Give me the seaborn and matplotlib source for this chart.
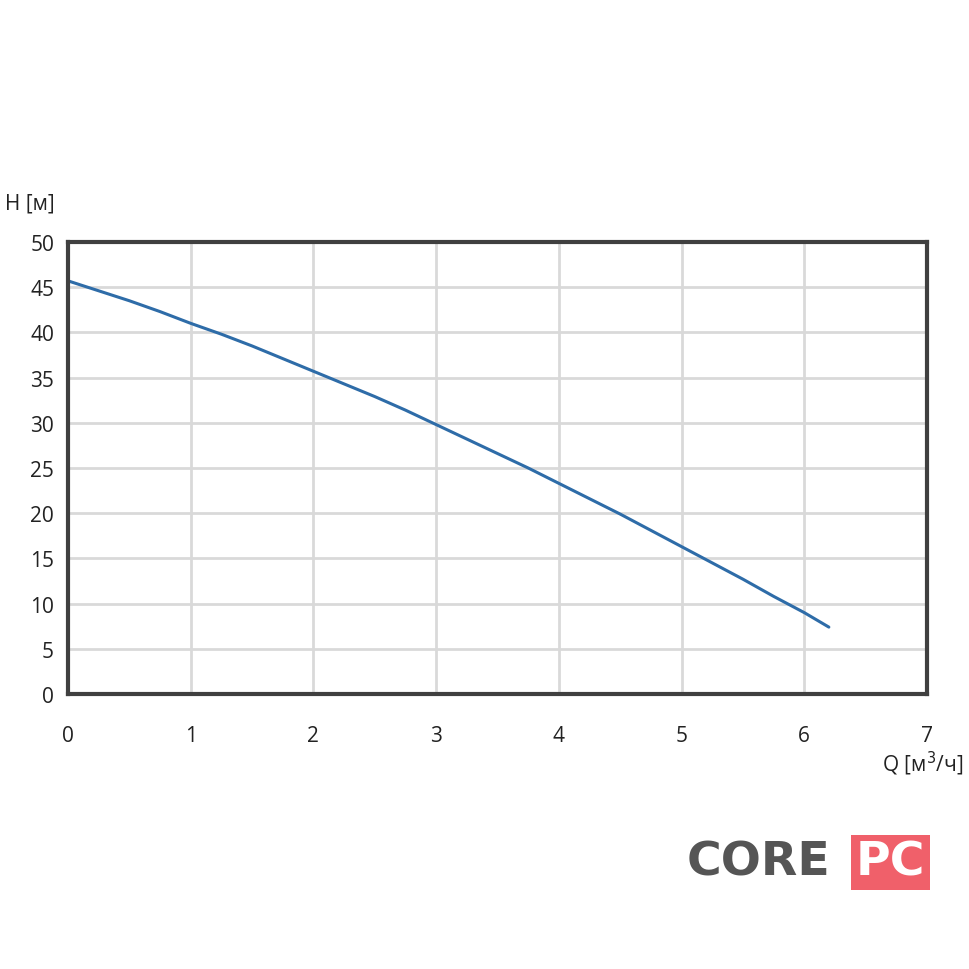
import matplotlib
matplotlib.use("Agg")
import matplotlib.pyplot as plt
import seaborn as sns
import pandas as pd

q = [0, 0.25, 0.5, 0.75, 1, 1.25, 1.5, 1.75, 2, 2.25, 2.5, 2.75, 3, 3.25, 3.5, 3.75,
     4, 4.25, 4.5, 4.75, 5, 5.25, 5.5, 5.75, 6, 6.2]
h = [45.7, 44.6, 43.5, 42.3, 41.0, 39.8, 38.5, 37.1, 35.7, 34.3, 32.9, 31.4, 29.8, 28.2,
     26.6, 25.0, 23.3, 21.6, 19.9, 18.1, 16.3, 14.5, 12.7, 10.8, 9.0, 7.4]
xticks = [0, 1, 2, 3, 4, 5, 6, 7]
yticks = [0, 5, 10, 15, 20, 25, 30, 35, 40, 45, 50]

sns.set_style("white")
plt.rcParams['font.family'] = ['Open Sans', 'DejaVu Sans']

fig = plt.figure(figsize=(9.7, 9.7), dpi=100)
ax = fig.add_axes([0.0701, 0.2835, 0.8856, 0.466])
df = pd.DataFrame({"Q": q, "H": h})
sns.lineplot(data=df, x="Q", y="H", ax=ax, color="#2e6ca8", linewidth=2.2)
ax.set_xlim(0, 7)
ax.set_ylim(0, 50)
ax.set_xticks(xticks)
ax.set_yticks(yticks)
ax.grid(True, color="#d9d9d9", linewidth=2)
for s in ax.spines.values():
    s.set_color("#404040")
    s.set_linewidth(3)
ax.tick_params(axis="y", labelsize=15, length=0, pad=10, colors="#222222")
ax.tick_params(axis="x", labelsize=15, length=0, pad=22, colors="#222222")
ax.set_xlabel("")
ax.set_ylabel("")
fig.text(0.005, 0.79, "H [м]", fontsize=15, color="#222222", va="center")
fig.text(0.993, 0.212, "Q [м$^3$/ч]", fontsize=15, color="#222222", ha="right", va="center")

fig.text(0.708, 0.11, "CORE", fontsize=34, fontweight="bold", color="#555555", va="center",
         family="DejaVu Sans")
fig.text(0.882, 0.11, "PC", fontsize=34, fontweight="bold", color="white", va="center", ha="left",
         family="DejaVu Sans", bbox=dict(boxstyle="square,pad=0.1", fc="#f0606a", ec="none"))
fig.savefig("out.png", dpi=100)
